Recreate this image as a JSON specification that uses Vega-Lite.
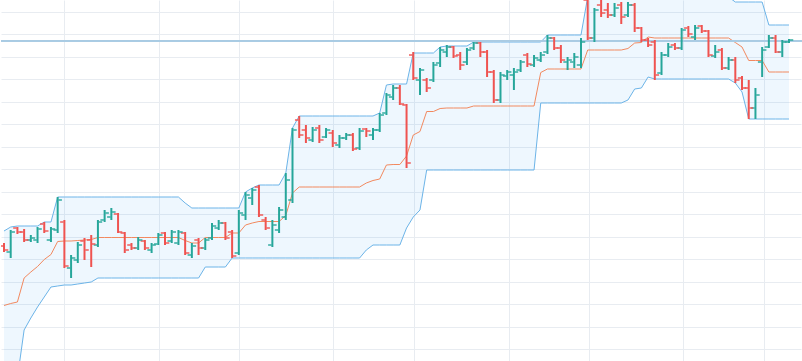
{
  "$schema": "https://vega.github.io/schema/vega-lite/v6.json",
  "autosize": {"type": "fit", "contains": "padding"},
  "width": 802,
  "height": 361,
  "padding": 0,
  "background": "#ffffff",
  "config": {"view": {"stroke": null}, "axis": {"labelOverlap": false}},
  "data": {"values": [
    {"i":0,"o":11.5,"h":11.8,"l":10.9,"c":11.1,"u":13.0,"lo":-1.9,"m":5.55},
    {"i":1,"o":10.9,"h":13.1,"l":10.3,"c":12.9,"u":13.4,"lo":-1.9,"m":5.75},
    {"i":2,"o":13.3,"h":13.4,"l":12.7,"c":12.9,"u":13.5,"lo":-1.7,"m":5.9},
    {"i":3,"o":12.9,"h":13.2,"l":11.9,"c":12.1,"u":13.5,"lo":3.1,"m":8.3},
    {"i":4,"o":12.1,"h":12.6,"l":11.9,"c":12.3,"u":13.5,"lo":4.3,"m":8.9},
    {"i":5,"o":12.1,"h":13.4,"l":11.8,"c":13.2,"u":13.5,"lo":5.4,"m":9.45},
    {"i":6,"o":13.7,"h":13.9,"l":12.8,"c":13.0,"u":13.9,"lo":6.4,"m":10.15},
    {"i":7,"o":12.1,"h":13.4,"l":11.9,"c":13.2,"u":13.9,"lo":7.4,"m":10.65},
    {"i":8,"o":13.1,"h":16.4,"l":12.8,"c":16.1,"u":16.4,"lo":7.5,"m":11.95},
    {"i":9,"o":13.9,"h":14.1,"l":9.3,"c":9.5,"u":16.4,"lo":7.6,"m":12.0},
    {"i":10,"o":9.3,"h":10.6,"l":8.3,"c":10.3,"u":16.4,"lo":7.6,"m":12.0},
    {"i":11,"o":10.1,"h":11.9,"l":9.8,"c":11.6,"u":16.4,"lo":7.7,"m":12.05},
    {"i":12,"o":12.0,"h":12.3,"l":10.1,"c":11.1,"u":16.4,"lo":7.8,"m":12.1},
    {"i":13,"o":12.1,"h":12.6,"l":9.4,"c":11.7,"u":16.4,"lo":7.9,"m":12.15},
    {"i":14,"o":11.6,"h":14.1,"l":11.4,"c":13.9,"u":16.4,"lo":8.3,"m":12.35},
    {"i":15,"o":14.1,"h":15.1,"l":13.9,"c":14.8,"u":16.4,"lo":8.3,"m":12.35},
    {"i":16,"o":14.4,"h":15.3,"l":14.1,"c":14.9,"u":16.4,"lo":8.3,"m":12.35},
    {"i":17,"o":14.7,"h":14.8,"l":12.8,"c":12.9,"u":16.4,"lo":8.3,"m":12.35},
    {"i":18,"o":12.8,"h":12.9,"l":10.8,"c":11.1,"u":16.4,"lo":8.3,"m":12.35},
    {"i":19,"o":11.6,"h":11.8,"l":11.1,"c":11.3,"u":16.4,"lo":8.3,"m":12.35},
    {"i":20,"o":11.3,"h":12.4,"l":11.1,"c":12.1,"u":16.4,"lo":8.3,"m":12.35},
    {"i":21,"o":12.0,"h":12.1,"l":11.1,"c":11.3,"u":16.4,"lo":8.3,"m":12.35},
    {"i":22,"o":11.1,"h":11.8,"l":10.8,"c":11.6,"u":16.4,"lo":8.3,"m":12.35},
    {"i":23,"o":11.7,"h":12.8,"l":11.6,"c":12.6,"u":16.4,"lo":8.3,"m":12.35},
    {"i":24,"o":12.8,"h":12.9,"l":11.6,"c":11.8,"u":16.4,"lo":8.3,"m":12.35},
    {"i":25,"o":12.0,"h":13.1,"l":11.8,"c":12.9,"u":16.4,"lo":8.3,"m":12.35},
    {"i":26,"o":11.8,"h":13.1,"l":11.6,"c":12.9,"u":16.4,"lo":8.3,"m":12.35},
    {"i":27,"o":12.8,"h":12.9,"l":10.6,"c":10.8,"u":15.8,"lo":8.3,"m":12.05},
    {"i":28,"o":10.6,"h":11.8,"l":10.3,"c":11.5,"u":15.3,"lo":8.3,"m":11.8},
    {"i":29,"o":12.1,"h":12.3,"l":10.6,"c":11.3,"u":15.3,"lo":8.3,"m":11.8},
    {"i":30,"o":11.3,"h":12.3,"l":11.1,"c":12.1,"u":15.3,"lo":9.4,"m":12.35},
    {"i":31,"o":12.3,"h":13.8,"l":12.1,"c":13.5,"u":15.3,"lo":9.4,"m":12.35},
    {"i":32,"o":13.3,"h":14.1,"l":13.1,"c":13.8,"u":15.3,"lo":9.4,"m":12.35},
    {"i":33,"o":13.8,"h":13.9,"l":12.1,"c":12.3,"u":15.3,"lo":9.4,"m":12.35},
    {"i":34,"o":12.9,"h":13.1,"l":10.3,"c":10.5,"u":15.3,"lo":10.3,"m":12.8},
    {"i":35,"o":10.8,"h":15.1,"l":10.6,"c":14.8,"u":15.3,"lo":10.3,"m":12.8},
    {"i":36,"o":14.6,"h":16.9,"l":14.1,"c":16.6,"u":16.9,"lo":10.3,"m":13.6},
    {"i":37,"o":16.3,"h":17.3,"l":15.6,"c":17.1,"u":17.3,"lo":10.3,"m":13.8},
    {"i":38,"o":17.4,"h":17.6,"l":14.4,"c":14.6,"u":17.6,"lo":10.3,"m":13.95},
    {"i":39,"o":14.1,"h":14.4,"l":13.1,"c":13.3,"u":17.6,"lo":10.3,"m":13.95},
    {"i":40,"o":11.6,"h":14.1,"l":11.4,"c":13.6,"u":17.6,"lo":10.3,"m":13.95},
    {"i":41,"o":13.1,"h":15.4,"l":12.8,"c":15.1,"u":17.6,"lo":10.3,"m":13.95},
    {"i":42,"o":14.4,"h":18.8,"l":14.1,"c":18.1,"u":18.8,"lo":10.3,"m":14.55},
    {"i":43,"o":16.1,"h":23.3,"l":15.8,"c":23.1,"u":23.3,"lo":10.3,"m":16.8},
    {"i":44,"o":24.1,"h":24.5,"l":22.3,"c":22.6,"u":24.5,"lo":10.3,"m":17.4},
    {"i":45,"o":23.1,"h":23.6,"l":21.8,"c":22.3,"u":24.5,"lo":10.3,"m":17.4},
    {"i":46,"o":22.1,"h":23.4,"l":21.9,"c":23.1,"u":24.5,"lo":10.3,"m":17.4},
    {"i":47,"o":23.3,"h":23.6,"l":21.8,"c":22.1,"u":24.5,"lo":10.3,"m":17.4},
    {"i":48,"o":22.4,"h":23.3,"l":22.3,"c":23.1,"u":24.5,"lo":10.3,"m":17.4},
    {"i":49,"o":22.8,"h":23.1,"l":21.4,"c":21.8,"u":24.5,"lo":10.3,"m":17.4},
    {"i":50,"o":21.6,"h":22.6,"l":21.3,"c":22.3,"u":24.5,"lo":10.3,"m":17.4},
    {"i":51,"o":22.3,"h":22.8,"l":22.1,"c":22.6,"u":24.5,"lo":10.3,"m":17.4},
    {"i":52,"o":22.6,"h":22.8,"l":21.0,"c":21.2,"u":24.5,"lo":10.3,"m":17.4},
    {"i":53,"o":21.3,"h":23.3,"l":21.1,"c":23.0,"u":24.5,"lo":10.3,"m":17.4},
    {"i":54,"o":23.2,"h":23.3,"l":22.4,"c":23.0,"u":24.5,"lo":11.1,"m":17.8},
    {"i":55,"o":22.6,"h":23.3,"l":22.1,"c":23.1,"u":24.5,"lo":11.6,"m":18.05},
    {"i":56,"o":23.1,"h":24.8,"l":22.9,"c":24.6,"u":24.8,"lo":11.6,"m":18.2},
    {"i":57,"o":24.8,"h":26.8,"l":24.6,"c":26.6,"u":27.6,"lo":11.6,"m":19.6},
    {"i":58,"o":26.4,"h":27.6,"l":26.1,"c":27.3,"u":27.7,"lo":11.6,"m":19.65},
    {"i":59,"o":27.3,"h":27.6,"l":25.6,"c":25.7,"u":27.7,"lo":11.6,"m":19.65},
    {"i":60,"o":25.6,"h":25.7,"l":19.3,"c":19.8,"u":27.7,"lo":13.3,"m":20.5},
    {"i":61,"o":30.6,"h":30.9,"l":28.1,"c":28.3,"u":30.8,"lo":14.4,"m":22.6},
    {"i":62,"o":28.1,"h":29.3,"l":26.6,"c":29.1,"u":30.8,"lo":15.1,"m":22.95},
    {"i":63,"o":28.1,"h":28.3,"l":26.9,"c":27.3,"u":30.8,"lo":19.1,"m":24.95},
    {"i":64,"o":28.1,"h":29.9,"l":27.9,"c":29.6,"u":30.8,"lo":19.1,"m":24.95},
    {"i":65,"o":29.8,"h":31.4,"l":29.4,"c":31.1,"u":31.4,"lo":19.1,"m":25.25},
    {"i":66,"o":30.9,"h":31.6,"l":30.4,"c":31.4,"u":31.5,"lo":19.1,"m":25.3},
    {"i":67,"o":31.4,"h":31.5,"l":30.3,"c":30.5,"u":31.5,"lo":19.1,"m":25.3},
    {"i":68,"o":30.6,"h":30.9,"l":29.1,"c":29.6,"u":31.5,"lo":19.1,"m":25.3},
    {"i":69,"o":29.9,"h":31.3,"l":29.6,"c":31.1,"u":31.5,"lo":19.1,"m":25.3},
    {"i":70,"o":31.3,"h":31.9,"l":31.1,"c":31.8,"u":31.9,"lo":19.1,"m":25.5},
    {"i":71,"o":31.8,"h":31.9,"l":30.4,"c":30.9,"u":31.9,"lo":19.1,"m":25.5},
    {"i":72,"o":30.9,"h":31.1,"l":28.4,"c":28.9,"u":31.9,"lo":19.1,"m":25.5},
    {"i":73,"o":28.9,"h":29.1,"l":25.8,"c":26.1,"u":31.9,"lo":19.1,"m":25.5},
    {"i":74,"o":26.1,"h":28.9,"l":25.8,"c":28.6,"u":31.9,"lo":19.1,"m":25.5},
    {"i":75,"o":28.5,"h":29.1,"l":28.1,"c":28.9,"u":31.9,"lo":19.1,"m":25.5},
    {"i":76,"o":28.6,"h":29.3,"l":27.1,"c":28.9,"u":31.9,"lo":19.1,"m":25.5},
    {"i":77,"o":29.1,"h":30.1,"l":28.9,"c":29.9,"u":31.9,"lo":19.1,"m":25.5},
    {"i":78,"o":30.6,"h":30.8,"l":29.4,"c":29.7,"u":31.9,"lo":19.1,"m":25.5},
    {"i":79,"o":29.6,"h":30.6,"l":29.4,"c":30.3,"u":31.9,"lo":19.1,"m":25.5},
    {"i":80,"o":30.1,"h":30.9,"l":29.9,"c":30.6,"u":31.9,"lo":25.8,"m":28.85},
    {"i":81,"o":30.9,"h":32.6,"l":30.7,"c":32.3,"u":32.6,"lo":25.8,"m":29.2},
    {"i":82,"o":32.3,"h":32.4,"l":31.1,"c":31.3,"u":32.6,"lo":25.8,"m":29.2},
    {"i":83,"o":31.3,"h":31.6,"l":29.8,"c":30.1,"u":32.6,"lo":25.8,"m":29.2},
    {"i":84,"o":29.9,"h":30.4,"l":29.1,"c":30.1,"u":32.6,"lo":25.8,"m":29.2},
    {"i":85,"o":29.9,"h":30.8,"l":29.3,"c":30.4,"u":32.6,"lo":25.8,"m":29.2},
    {"i":86,"o":29.6,"h":32.3,"l":29.3,"c":31.9,"u":32.6,"lo":25.8,"m":29.2},
    {"i":87,"o":36.1,"h":36.4,"l":32.1,"c":32.3,"u":36.4,"lo":25.8,"m":31.1},
    {"i":88,"o":32.3,"h":35.3,"l":31.9,"c":35.1,"u":36.4,"lo":25.8,"m":31.1},
    {"i":89,"o":35.6,"h":36.3,"l":34.4,"c":34.8,"u":36.4,"lo":25.8,"m":31.1},
    {"i":90,"o":35.1,"h":35.8,"l":34.3,"c":34.6,"u":36.4,"lo":25.8,"m":31.1},
    {"i":91,"o":34.6,"h":35.8,"l":34.4,"c":35.3,"u":36.4,"lo":25.8,"m":31.1},
    {"i":92,"o":35.6,"h":35.9,"l":33.7,"c":34.4,"u":36.4,"lo":25.8,"m":31.1},
    {"i":93,"o":34.6,"h":35.9,"l":34.4,"c":35.6,"u":36.4,"lo":26.1,"m":31.25},
    {"i":94,"o":35.6,"h":35.8,"l":32.9,"c":33.3,"u":36.4,"lo":27.2,"m":31.8},
    {"i":95,"o":33.3,"h":33.4,"l":31.9,"c":32.1,"u":36.4,"lo":27.3,"m":31.85},
    {"i":96,"o":32.1,"h":32.3,"l":31.4,"c":31.6,"u":36.4,"lo":28.4,"m":32.4},
    {"i":97,"o":31.9,"h":32.1,"l":28.1,"c":28.6,"u":36.4,"lo":28.2,"m":32.3},
    {"i":98,"o":28.8,"h":30.9,"l":28.6,"c":30.6,"u":36.4,"lo":28.2,"m":32.3},
    {"i":99,"o":30.6,"h":31.8,"l":30.4,"c":31.4,"u":36.4,"lo":28.2,"m":32.3},
    {"i":100,"o":31.6,"h":31.8,"l":31.1,"c":31.3,"u":36.4,"lo":28.2,"m":32.3},
    {"i":101,"o":31.3,"h":33.3,"l":31.1,"c":33.1,"u":36.4,"lo":28.2,"m":32.3},
    {"i":102,"o":33.3,"h":33.5,"l":32.4,"c":32.7,"u":36.4,"lo":28.2,"m":32.3},
    {"i":103,"o":32.4,"h":33.6,"l":32.1,"c":33.3,"u":36.4,"lo":28.2,"m":32.3},
    {"i":104,"o":33.5,"h":33.6,"l":32.8,"c":33.0,"u":36.4,"lo":28.2,"m":32.3},
    {"i":105,"o":33.0,"h":33.1,"l":30.4,"c":30.6,"u":36.4,"lo":28.2,"m":32.3},
    {"i":106,"o":30.5,"h":31.6,"l":30.3,"c":30.9,"u":36.4,"lo":28.2,"m":32.3},
    {"i":107,"o":31.1,"h":31.3,"l":29.1,"c":29.3,"u":36.4,"lo":28.2,"m":32.3},
    {"i":108,"o":29.3,"h":30.4,"l":29.1,"c":30.1,"u":36.4,"lo":28.2,"m":32.3},
    {"i":109,"o":30.1,"h":30.4,"l":27.8,"c":28.1,"u":35.9,"lo":27.8,"m":31.85},
    {"i":110,"o":28.3,"h":28.5,"l":27.1,"c":27.3,"u":35.9,"lo":26.9,"m":31.4},
    {"i":111,"o":27.3,"h":28.1,"l":24.2,"c":25.3,"u":35.9,"lo":24.2,"m":30.05},
    {"i":112,"o":25.3,"h":27.3,"l":24.2,"c":26.6,"u":35.9,"lo":24.2,"m":30.05},
    {"i":113,"o":29.9,"h":31.4,"l":28.4,"c":31.1,"u":35.9,"lo":24.2,"m":30.05},
    {"i":114,"o":31.4,"h":32.6,"l":31.3,"c":32.3,"u":33.6,"lo":24.2,"m":28.9},
    {"i":115,"o":32.3,"h":32.6,"l":30.8,"c":30.9,"u":33.6,"lo":24.2,"m":28.9},
    {"i":116,"o":30.9,"h":32.1,"l":30.4,"c":31.9,"u":33.6,"lo":24.2,"m":28.9},
    {"i":117,"o":31.9,"h":32.2,"l":31.8,"c":32.1,"u":33.6,"lo":24.2,"m":28.9}
  ]},
  "encoding": {
    "x": {
      "field": "i", "type": "quantitative",
      "scale": {"domain": [-0.446, 118.79], "nice": false, "zero": false},
      "axis": {"title": null, "labels": false, "ticks": false, "domain": false, "grid": true, "gridColor": "#e8ecf1", "gridWidth": 1,
               "values": [8.92, 23.05, 35.09, 49.06, 61.11, 75.23, 87.12, 101.25, 113.29]}
    },
    "y": {
      "field": "u", "type": "quantitative",
      "scale": {"domain": [0, 36.1], "nice": false, "zero": false},
      "axis": {"title": null, "labels": false, "ticks": false, "domain": false, "grid": true, "gridColor": "#e8ecf1", "gridWidth": 1,
               "values": [34.9, 32.7, 30.4, 28.2, 25.9, 23.7, 21.4, 19.2, 16.9, 14.7, 12.4, 10.2, 7.9, 5.7, 3.4, 1.2]}
    }
  },
  "layer": [
    {
      "mark": {"type": "area", "color": "#2196f3", "opacity": 0.08, "clip": true},
      "encoding": {"y2": {"field": "lo"}}
    },
    {
      "mark": {"type": "line", "color": "#6cb4e8", "strokeWidth": 1, "clip": true},
      "encoding": {}
    },
    {
      "mark": {"type": "line", "color": "#6cb4e8", "strokeWidth": 1, "clip": true},
      "encoding": {"y": {"field": "lo", "type": "quantitative"}}
    },
    {
      "mark": {"type": "line", "color": "#f2895f", "strokeWidth": 1, "clip": true},
      "encoding": {"y": {"field": "m", "type": "quantitative"}}
    },
    {
      "mark": {"type": "rule", "color": "#a9cbe3", "strokeWidth": 1},
      "encoding": {"y": {"datum": 32.0, "type": "quantitative"}, "x": {"value": 0}, "x2": {"value": 802}}
    },
    {
      "mark": {"type": "rule", "strokeWidth": 2, "clip": true},
      "encoding": {
        "y": {"field": "l", "type": "quantitative"},
        "y2": {"field": "h"},
        "color": {"condition": {"test": "datum.c >= datum.o", "value": "#26a69a"}, "value": "#ef5350"}
      }
    },
    {
      "mark": {"type": "tick", "orient": "horizontal", "size": 3.5, "thickness": 2, "xOffset": -2.5, "clip": true},
      "encoding": {
        "y": {"field": "o", "type": "quantitative"},
        "color": {"condition": {"test": "datum.c >= datum.o", "value": "#26a69a"}, "value": "#ef5350"}
      }
    },
    {
      "mark": {"type": "tick", "orient": "horizontal", "size": 3.5, "thickness": 2, "xOffset": 2.5, "clip": true},
      "encoding": {
        "y": {"field": "c", "type": "quantitative"},
        "color": {"condition": {"test": "datum.c >= datum.o", "value": "#26a69a"}, "value": "#ef5350"}
      }
    }
  ]
}
